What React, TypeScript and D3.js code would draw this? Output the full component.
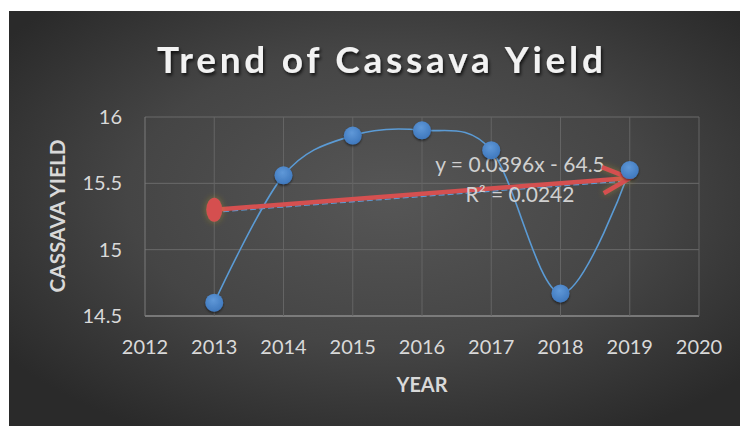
import React from "react";
import * as d3 from "d3";

const years = [2013, 2014, 2015, 2016, 2017, 2018, 2019];
const yieldValues = [14.6, 15.56, 15.86, 15.9, 15.75, 14.67, 15.6];
const xTicks = [2012, 2013, 2014, 2015, 2016, 2017, 2018, 2019, 2020];
const yTicks = [14.5, 15, 15.5, 16];
const titleText = "Trend of Cassava Yield";
const xTitle = "YEAR";
const yTitle = "CASSAVA YIELD";
const equationText = "y = 0.0396x - 64.5";
const r2Text = "R² = 0.0242";

const W = 740;
const H = 426;
const FONT = "Lato, 'Open Sans', sans-serif";

export default function App() {
  const x = d3.scaleLinear().domain([2012, 2020]).range([145, 699]);
  const y = d3.scaleLinear().domain([14.5, 16]).range([316, 117]);

  // linear regression
  const mx = d3.mean(years) as number;
  const my = d3.mean(yieldValues) as number;
  let num = 0;
  let den = 0;
  years.forEach((yr, i) => {
    num += (yr - mx) * (yieldValues[i] - my);
    den += (yr - mx) * (yr - mx);
  });
  const slope = num / den;
  const intercept = my - slope * mx;
  const trend = (v: number) => slope * v + intercept;
  const x0 = years[0];
  const x1 = years[years.length - 1];

  const line = d3
    .line<number>()
    .x((_, i) => x(years[i]))
    .y((v) => y(v))
    .curve(d3.curveCardinal.tension(0));

  const ax = x(x0);
  const ay = y(trend(x0));
  const bx = x(x1);
  const by = y(trend(x1));
  const ang = Math.atan2(by - ay, bx - ax);
  const headLen = 30;
  const headAng = 0.45;
  const h1x = bx - headLen * Math.cos(ang - headAng);
  const h1y = by - headLen * Math.sin(ang - headAng);
  const h2x = bx - headLen * Math.cos(ang + headAng);
  const h2y = by - headLen * Math.sin(ang + headAng);

  return (
    <svg
      width={W}
      height={H}
      style={{ position: "absolute", left: 0, top: 0, display: "block" }}
    >
      <defs>
        <radialGradient id="bg" cx="52%" cy="45%" r="65%">
          <stop offset="0%" stopColor="#565656" />
          <stop offset="55%" stopColor="#454545" />
          <stop offset="100%" stopColor="#2a2a2a" />
        </radialGradient>
        <filter id="tshadow" x="-10%" y="-30%" width="120%" height="160%">
          <feDropShadow dx="1.5" dy="2.5" stdDeviation="1.5" floodColor="#000" floodOpacity="0.7" />
        </filter>
        <filter id="mshadow" x="-50%" y="-50%" width="200%" height="200%">
          <feDropShadow dx="0" dy="1.5" stdDeviation="1.2" floodColor="#000" floodOpacity="0.55" />
        </filter>
        <filter id="glow" x="-100%" y="-100%" width="300%" height="300%">
          <feGaussianBlur stdDeviation="3" in="SourceAlpha" result="b" />
          <feFlood floodColor="#b59a2a" floodOpacity="0.5" />
          <feComposite in2="b" operator="in" result="g" />
          <feMerge>
            <feMergeNode in="g" />
            <feMergeNode in="SourceGraphic" />
          </feMerge>
        </filter>
        <radialGradient id="mk" cx="45%" cy="35%" r="65%">
          <stop offset="0%" stopColor="#5f98d8" />
          <stop offset="100%" stopColor="#3f78bd" />
        </radialGradient>
      </defs>
      <rect x={0} y={0} width={W} height={H} fill="#ffffff" />
      <rect x={9} y={11} width={W - 9} height={H - 11} fill="url(#bg)" />

      <text
        x={380}
        y={73}
        textAnchor="middle"
        fill="#f2f2f2"
        fontFamily={FONT}
        fontWeight={700}
        fontSize={37}
        textLength={446}
        lengthAdjust="spacing"
        filter="url(#tshadow)"
      >
        {titleText}
      </text>

      {/* grid */}
      {yTicks.map((t) => (
        <line
          key={"gy" + t}
          x1={x(2012)}
          x2={x(2020)}
          y1={y(t)}
          y2={y(t)}
          stroke={t === 14.5 ? "#8c8c8c" : "#6a6a6a"}
          strokeWidth={t === 14.5 ? 1.5 : 1}
        />
      ))}
      {xTicks.map((t) => (
        <line
          key={"gx" + t}
          x1={x(t)}
          x2={x(t)}
          y1={y(16)}
          y2={y(14.5)}
          stroke={t === 2012 ? "#7a7a7a" : "#646464"}
          strokeWidth={1}
        />
      ))}

      {/* tick labels */}
      {yTicks.map((t) => (
        <text
          key={"ly" + t}
          x={122}
          y={y(t)}
          dy="0.35em"
          textAnchor="end"
          fill="#d9d9d9"
          fontFamily={FONT}
          fontSize={20}
        >
          {String(t)}
        </text>
      ))}
      {xTicks.map((t) => (
        <text
          key={"lx" + t}
          x={x(t)}
          y={347}
          dy="0.35em"
          textAnchor="middle"
          fill="#d9d9d9"
          fontFamily={FONT}
          fontSize={20}
        >
          {String(t)}
        </text>
      ))}

      {/* axis titles */}
      <text
        x={422}
        y={392}
        textAnchor="middle"
        fill="#d9d9d9"
        fontFamily={FONT}
        fontWeight={700}
        fontSize={20}
        textLength={51}
        lengthAdjust="spacingAndGlyphs"
      >
        {xTitle}
      </text>
      <text
        transform={`translate(65,216) rotate(-90)`}
        textAnchor="middle"
        fill="#d9d9d9"
        fontFamily={FONT}
        fontWeight={700}
        fontSize={21}
        textLength={153}
        lengthAdjust="spacingAndGlyphs"
      >
        {yTitle}
      </text>

      {/* series line */}
      <path
        d={line(yieldValues) || ""}
        fill="none"
        stroke="#5b9bd5"
        strokeWidth={1.6}
      />

      {/* dashed trendline */}
      <line
        x1={x(x0)}
        y1={y(trend(x0)) + 2.5}
        x2={x(x1)}
        y2={y(trend(x1)) + 2.5}
        stroke="#5b9bd5"
        strokeWidth={1.3}
        strokeDasharray="6 3"
      />

      {/* red arrow shaft along trend */}
      <line
        x1={ax}
        y1={ay}
        x2={bx - 3}
        y2={by}
        stroke="#d55050"
        strokeWidth={4.5}
      />

      {/* equation */}
      <text
        x={520}
        y={172}
        textAnchor="middle"
        fill="#d0d0d0"
        fontFamily={FONT}
        fontSize={21}
      >
        {equationText}
      </text>
      <text
        x={520}
        y={202}
        textAnchor="middle"
        fill="#d0d0d0"
        fontFamily={FONT}
        fontSize={21}
      >
        {r2Text}
      </text>

      <g filter="url(#glow)">
        <polyline
          points={`${h1x},${h1y} ${bx},${by} ${h2x},${h2y}`}
          fill="none"
          stroke="#d55050"
          strokeWidth={4.5}
          strokeLinejoin="miter"
        />
        <ellipse cx={ax} cy={ay} rx={8} ry={12} fill="#d55050" />
      </g>

      {/* markers */}
      {yieldValues.map((v, i) => (
        <circle
          key={"m" + i}
          cx={x(years[i])}
          cy={y(v)}
          r={9}
          fill="url(#mk)"
          filter="url(#mshadow)"
        />
      ))}
    </svg>
  );
}
